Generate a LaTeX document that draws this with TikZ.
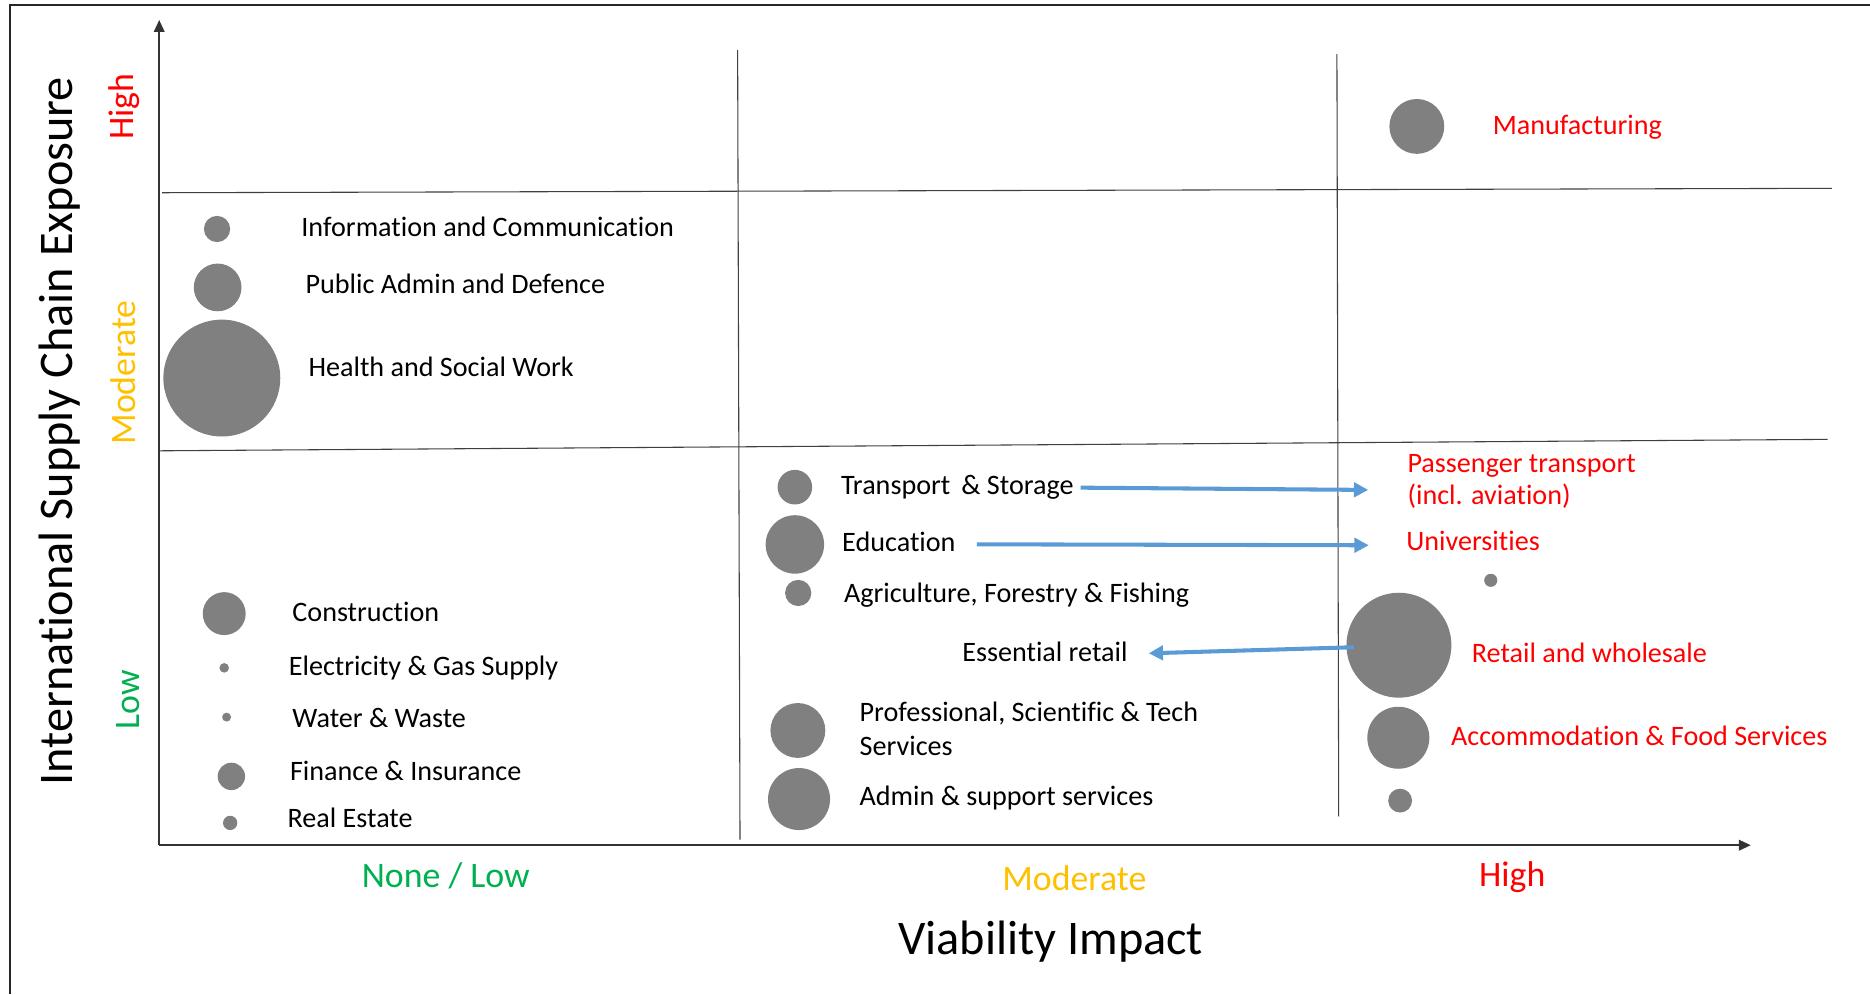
\documentclass[tikz,border=0pt]{standalone}
\usepackage{fontspec}
\setmainfont{Carlito}[Ligatures=NoCommon]
\usetikzlibrary{arrows.meta}
\definecolor{cgray}{HTML}{808080}
\definecolor{cred}{HTML}{FF0000}
\definecolor{cgold}{HTML}{FFC000}
\definecolor{cgreen}{HTML}{00B050}
\definecolor{cblue}{HTML}{5B9BD5}
\begin{document}
\begin{tikzpicture}[x=1pt,y=-1pt,
  dot/.style={circle,fill=cgray,draw=none,inner sep=0pt,minimum size=#1},
  lbl/.style={anchor=base west,inner sep=0pt,font=\fontsize{23.6}{28.5}\selectfont},
  rlbl/.style={lbl,text=cred},
  lvl/.style={anchor=base,inner sep=0pt,font=\fontsize{30}{36}\selectfont},
  ttl/.style={anchor=base,inner sep=0pt,font=\fontsize{40.5}{48}\selectfont},
  gridline/.style={line width=0.9pt,draw=black!75},
  axisline/.style={line width=1.2pt,draw=black!80,-{Triangle[length=10pt,width=9pt]}},
  arr/.style={line width=3.4pt,draw=cblue,-{Triangle[length=12pt,width=12pt]}}]
\useasboundingbox (0,0) rectangle (1568,833.5);
% frame
\draw[line width=1.6pt,draw=black!85] (8.3,833.5) -- (8.3,4.3) -- (1568,4.3);
% grid
\draw[gridline] (136,161.6) -- (1536,157.9);
\draw[gridline] (133,378) -- (1532.5,368.4);
\draw[gridline] (618.5,42) -- (620.5,704);
\draw[gridline] (1121,45.3) -- (1122.5,684.5);
% axes
\coordinate (O) at (133.5,708.7);
\coordinate (Ytop) at (133.5,16.8);
\coordinate (Xend) at (1468,708.7);
\draw[axisline] (O) -- (Ytop);
\draw[axisline] (O) -- (Xend);
% titles
\node[ttl,rotate=90] (ytitle) at (61,361.4) {International Supply Chain Exposure};
\node[ttl] (xtitle) at (881,800) {Viability Impact};
% level labels
\node[lvl,text=cred,rotate=90] (yhigh) at (111.8,89.5) {High};
\node[lvl,text=cgold,rotate=90] (ymod) at (113.2,312.3) {Moderate};
\node[lvl,text=cgreen,rotate=90] (ylow) at (117,586.5) {Low};
\node[lvl,text=cgreen] (xlow) at (373.8,744.3) {None / Low};
\node[lvl,text=cgold] (xmod) at (900.8,746.5) {Moderate};
\node[lvl,text=cred] (xhigh) at (1268,743.7) {High};
% column 1
\node[dot=22] (c-ic) at (182,192) {};
\node[dot=40] (c-pa) at (182.5,241) {};
\node[dot=98] (c-hs) at (186,317) {};
\node[dot=36] (c-con) at (188,514.5) {};
\node[dot=8] (c-el) at (188,560) {};
\node[dot=7.5] (c-ww) at (190,601.3) {};
\node[dot=23] (c-fi) at (194,651) {};
\node[dot=12] (c-re) at (193,690) {};
\node[lbl] (t-ic) at (252.5,198.4) {Information and Communication};
\node[lbl] (t-pa) at (256,246) {Public Admin and Defence};
\node[lbl] (t-hs) at (258.5,315.3) {Health and Social Work};
\node[lbl] (t-con) at (245,520.7) {Construction};
\node[lbl] (t-el) at (242,566.8) {Electricity \& Gas Supply};
\node[lbl] (t-ww) at (245,610.1) {Water \& Waste};
\node[lbl] (t-fi) at (243,654.3) {Finance \& Insurance};
\node[lbl] (t-re) at (241,694.2) {Real Estate};
% column 2
\node[dot=29] (c-ts) at (666.5,408.5) {};
\node[dot=49] (c-ed) at (666.5,456.5) {};
\node[dot=22] (c-ag) at (669.3,497.2) {};
\node[dot=46] (c-ps) at (669,612.5) {};
\node[dot=52] (c-as) at (670,670) {};
\node[lbl] (t-ts) at (705,415) {Transport \,\& Storage};
\node[lbl] (t-ed) at (706,462.5) {Education};
\node[lbl] (t-ag) at (707.5,505.3) {Agriculture, Forestry \& Fishing};
\node[lbl] (t-er) at (806.7,554.8) {Essential retail};
\node[lbl] (t-ps) at (720.6,605.1) {\begin{tabular}[t]{@{}l@{}}Professional, Scientific \& Tech\\Services\end{tabular}};
\node[lbl] (t-as) at (720.6,675) {Admin \& support services};
% column 3
\node[dot=46] (c-mf) at (1188,106) {};
\node[dot=11] (c-u) at (1250,486.6) {};
\node[dot=88] (c-rw) at (1173,541) {};
\node[dot=52] (c-af) at (1172.5,618.6) {};
\node[dot=20] (c-x) at (1174,671.3) {};
\node[rlbl] (t-mf) at (1251.5,112.4) {Manufacturing};
\node[rlbl,font=\fontsize{23.6}{27.3}\selectfont] (t-pt) at (1180,396.1) {\begin{tabular}[t]{@{}l@{}}Passenger transport\\(incl. aviation)\end{tabular}};
\node[rlbl] (t-un) at (1179,461.5) {Universities};
\node[rlbl] (t-rw) at (1234,555.9) {Retail and wholesale};
\node[rlbl] (t-af) at (1216.5,624.9) {Accommodation \& Food Services};
% arrows
\coordinate (a1s) at (906,408.9);
\coordinate (a1e) at (1147.3,410.8);
\coordinate (a2s) at (819,456.4);
\coordinate (a2e) at (1147.7,457.2);
\coordinate (a3s) at (1135.3,542.7);
\coordinate (a3e) at (963.2,547.8);
\draw[arr] (a1s) -- (a1e);
\draw[arr] (a2s) -- (a2e);
\draw[arr] (a3s) -- (a3e);
\end{tikzpicture}
\end{document}
